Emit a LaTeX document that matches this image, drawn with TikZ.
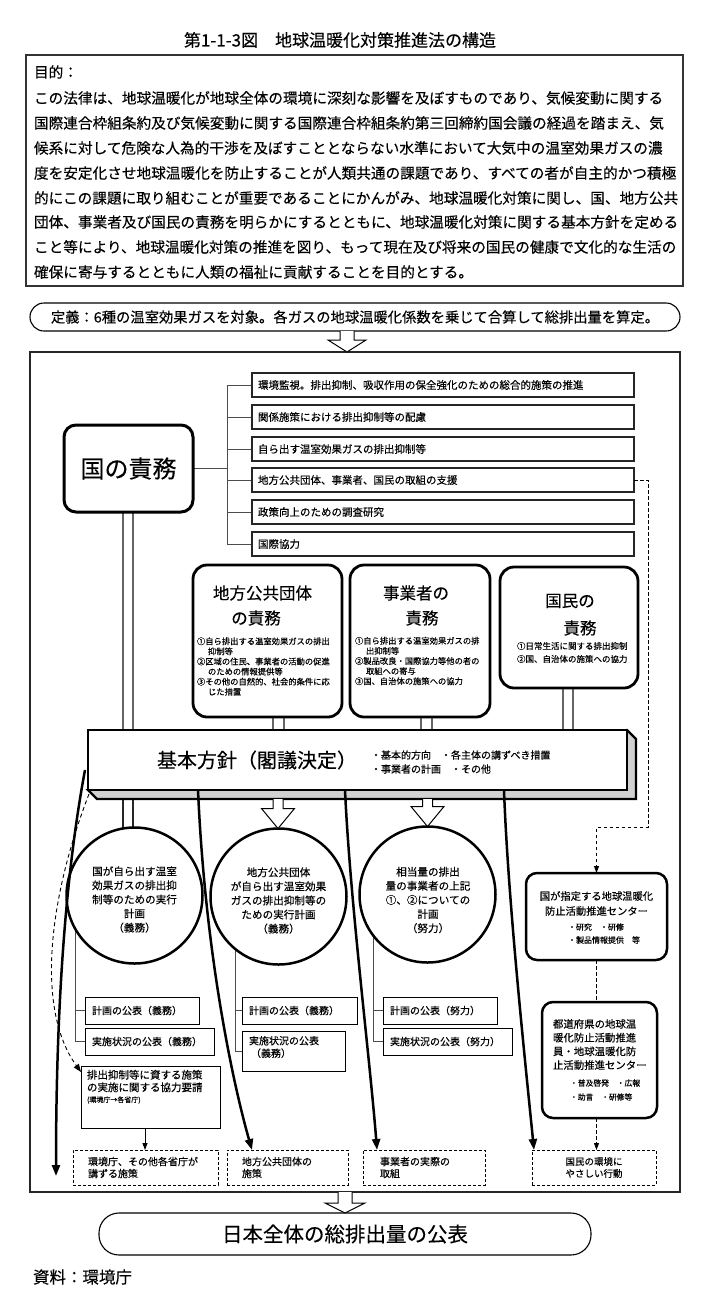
\documentclass[tikz,border=0pt]{standalone}
\usepackage{fontspec}
\setmainfont{Noto Sans CJK JP}[FakeBold=0.25]
\usetikzlibrary{arrows.meta,calc,backgrounds}
\XeTeXlinebreaklocale "ja"
\XeTeXlinebreakskip=0pt plus 4pt
\newcommand\myfs[1]{\fontsize{#1}{#1}\selectfont}
\newcommand\myfsl[2]{\fontsize{#1}{#2}\selectfont}
\newcommand\hollowdown[6]{%
  \draw[line width=1pt, fill=white] let \p1=(#2), \p2=(#3) in
    ({#1pt-#4pt},\y1) -- ({#1pt-#4pt},{\y2+#6pt}) -- ({#1pt-#5pt},{\y2+#6pt})
    -- ({#1pt},\y2) -- ({#1pt+#5pt},{\y2+#6pt}) -- ({#1pt+#4pt},{\y2+#6pt})
    -- ({#1pt+#4pt},\y1);}
\begin{document}
\begin{tikzpicture}[x=1pt,y=-1pt,
  every node/.style={inner sep=0pt,outer sep=0pt},
  ptext/.style={anchor=west,font=\myfs{14.65}},
  listbox/.style={draw=black!85,line width=1.1pt,fill=white,anchor=north west,minimum width=382pt,minimum height=24pt,text width=370pt,align=left,font=\myfs{10.5}},
  rbox/.style={draw,fill=white,anchor=north west},
  conn/.style={draw=black!70,line width=1pt},
  dline/.style={draw=black!60,line width=1.1pt},
  sbox/.style={draw,line width=1pt,fill=white,anchor=north west,minimum height=27pt,align=left,font=\myfsl{10}{12.5}},
  dbox/.style={draw,dash pattern=on 3pt off 2pt,line width=1pt,anchor=north west,minimum height=35pt,align=left,font=\myfsl{10}{12}},
  bigarrow/.style={line width=2.5pt,-{Triangle[length=11pt,width=8pt]}},
  dasharrow/.style={line width=0.9pt,dash pattern=on 4pt off 3pt,-{Triangle[length=8pt,width=6pt]}},
  dashline/.style={line width=0.9pt,dash pattern=on 3.5pt off 2.5pt},
  smalltip/.style={-{Triangle[length=7pt,width=5pt]}},
  ]
\useasboundingbox (0,0) rectangle (708,1315);

% ---------- title and purpose ----------
\node[font=\myfs{17}] (title) at (340,40) {第1-1-3図　地球温暖化対策推進法の構造};
\node[draw=black!80,line width=1.3pt,anchor=north west,minimum width=657pt,minimum height=231pt] (purpose) at (26,55) {};
\node[ptext] (p0) at (34,72) {目的：};
\node[ptext] (p1) at (34,98) {\makebox[645pt][s]{この法律は、地球温暖化が地球全体の環境に深刻な影響を及ぼすものであり、気候変動に関する}};
\node[ptext] (p2) at (34,123) {\makebox[645pt][s]{国際連合枠組条約及び気候変動に関する国際連合枠組条約第三回締約国会議の経過を踏まえ、気}};
\node[ptext] (p3) at (34,148) {\makebox[645pt][s]{候系に対して危険な人為的干渉を及ぼすこととならない水準において大気中の温室効果ガスの濃}};
\node[ptext] (p4) at (34,173) {\makebox[645pt][s]{度を安定化させ地球温暖化を防止することが人類共通の課題であり、すべての者が自主的かつ積極}};
\node[ptext] (p5) at (34,198) {\makebox[645pt][s]{的にこの課題に取り組むことが重要であることにかんがみ、地球温暖化対策に関し、国、地方公共}};
\node[ptext] (p6) at (34,222) {\makebox[645pt][s]{団体、事業者及び国民の責務を明らかにするとともに、地球温暖化対策に関する基本方針を定める}};
\node[ptext] (p7) at (34,247) {\makebox[645pt][s]{こと等により、地球温暖化対策の推進を図り、もって現在及び将来の国民の健康で文化的な生活の}};
\node[ptext] (p8) at (34,272) {確保に寄与するとともに人類の福祉に貢献することを目的とする。};

% ---------- definition ----------
\node[draw,line width=1.1pt,rounded corners=14pt,minimum width=650pt,minimum height=28pt,font=\myfs{14.3}] (def) at (355,317) {定義：6種の温室効果ガスを対象。各ガスの地球温暖化係数を乗じて合算して総排出量を算定。};
\node[draw=black!85,line width=1.1pt,anchor=north west,minimum width=650pt,minimum height=840pt] (frame) at (30,352) {};
\hollowdown{347}{def.south}{frame.north}{7}{19}{12}

% ---------- national duties ----------
\node[rbox,line width=3pt,rounded corners=12pt,minimum width=129pt,minimum height=87pt,font=\myfs{24}] (kuni) at (64,425) {国の責務};
\node[listbox] (l1) at (252,373) {環境監視。排出抑制、吸収作用の保全強化のための総合的施策の推進};
\node[listbox] (l2) at (252,405) {関係施策における排出抑制等の配慮};
\node[listbox] (l3) at (252,437) {自ら出す温室効果ガスの排出抑制等};
\node[listbox] (l4) at (252,468) {地方公共団体、事業者、国民の取組の支援};
\node[listbox] (l5) at (252,500) {政策向上のための調査研究};
\node[listbox] (l6) at (252,532) {国際協力};
\coordinate (kx) at (227,0);

% ---------- three duties ----------
\node[rbox,line width=2.8pt,rounded corners=14pt,minimum width=149pt,minimum height=152pt] (chiho) at (193,565) {};
\node[rbox,line width=2.8pt,rounded corners=14pt,minimum width=140pt,minimum height=152pt] (jigyo) at (350,565) {};
\node[rbox,line width=2.8pt,rounded corners=14pt,minimum width=138pt,minimum height=121pt] (kokumin) at (500,567) {};
\node[font=\myfs{16.5}] (chihoT1) at (262.5,593) {地方公共団体};
\node[font=\myfs{16.5}] (chihoT2) at (256,618) {の責務};
\node[anchor=west,align=left,font=\myfsl{8.3}{10.1}] (chihoI) at (197,666.5) {①自ら排出する温室効果ガスの排出\\\hspace{11pt}抑制等\\②区域の住民、事業者の活動の促進\\\hspace{11pt}のための情報提供等\\③その他の自然的、社会的条件に応\\\hspace{11pt}じた措置};
\node[font=\myfs{16.5}] (jigyoT1) at (416,593) {事業者の};
\node[font=\myfs{16.5}] (jigyoT2) at (422,618) {責務};
\node[anchor=west,align=left,font=\myfsl{8.3}{10.1}] (jigyoI) at (355,661) {①自ら排出する温室効果ガスの排\\\hspace{11pt}出抑制等\\②製品改良・国際協力等他の者の\\\hspace{11pt}取組への寄与\\③国、自治体の施策への協力};
\node[font=\myfs{16.5}] (kokuminT1) at (570,601) {国民の};
\node[font=\myfs{16.5}] (kokuminT2) at (580,628) {責務};
\node[anchor=west,align=left,font=\myfsl{8.5}{13}] (kokuminI) at (517,652.5) {①日常生活に関する排出抑制\\②国、自治体の施策への協力};

% ---------- basic policy bar ----------
\node[draw,fill=white,line width=2.6pt,anchor=north west,minimum width=539pt,minimum height=60pt] (bar) at (88,730) {};
\node[font=\myfs{20}] (barT) at (257,760) {基本方針（閣議決定）};
\node[anchor=west,align=left,font=\myfsl{10}{14}] (barB) at (371,762) {・基本的方向　・各主体の講ずべき措置\\・事業者の計画　・その他};

% ---------- plans (circles) ----------
\node[circle,draw,fill=white,line width=2.5pt,minimum size=136pt] (c1) at (134.5,895.5) {};
\node[circle,draw,fill=white,line width=2.5pt,minimum size=136pt] (c2) at (278.5,896.5) {};
\node[circle,draw,fill=white,line width=2.5pt,minimum size=136pt] (c3) at (427.5,894.5) {};
\node[align=center,font=\myfsl{10.6}{14.1}] (c1T) at (134.5,899.5) {国が自ら出す温室\\効果ガスの排出抑\\制等のための実行\\計画\\（義務）};
\node[align=center,font=\myfsl{10.6}{14.1}] (c2T) at (278.5,900.5) {地方公共団体\\が自ら出す温室効果\\ガスの排出抑制等の\\ための実行計画\\（義務）};
\node[align=center,font=\myfsl{10.6}{14.1}] (c3T) at (428,900) {相当量の排出\\量の事業者の上記\\①、②についての\\計画\\（努力）};
\hollowdown{278}{$(bar.south)+(0,9)$}{c2.north}{5}{16.5}{20}
\hollowdown{427.5}{$(bar.south)+(0,9)$}{c3.north}{5}{16.5}{20}

% ---------- publication boxes ----------
\node[sbox,minimum width=114pt,text width=100pt] (c1a) at (85,997) {計画の公表（義務）};
\node[sbox,minimum width=129pt,text width=115pt] (c1b) at (85,1028) {実施状況の公表（義務）};
\node[sbox,minimum width=115pt,text width=101pt] (c2a) at (242,997) {計画の公表（義務）};
\node[sbox,minimum width=103pt,minimum height=40pt] (c2b) at (242,1031) {};
\node[anchor=west,align=left,font=\myfsl{10}{12.5}] (c2bT) at (249,1047) {実施状況の公表\\\hspace{2pt}（義務）};
\node[sbox,minimum width=114pt,text width=100pt] (c3a) at (383,997) {計画の公表（努力）};
\node[sbox,minimum width=129pt,text width=115pt] (c3b) at (383,1028) {実施状況の公表（努力）};

\node[draw,line width=1pt,fill=white,anchor=north west,minimum width=139pt,minimum height=62pt] (kyo) at (81,1066) {};
\node[anchor=west,align=left,font=\myfsl{10.5}{12.5}] (kyoT) at (87,1081) {排出抑制等に資する施策\\の実施に関する協力要請};
\node[anchor=west,font=\myfs{7}] (kyoS) at (87,1100) {(環境庁→各省庁)};

% ---------- result boxes ----------
\node[dbox,minimum width=145pt,text width=115pt] (d1) at (73,1150) {環境庁、その他各省庁が\\講ずる施策};
\node[dbox,minimum width=121pt,text width=91pt] (d2) at (227,1150) {地方公共団体の\\施策};
\node[dbox,minimum width=122pt,text width=88pt] (d3) at (363,1150) {事業者の実際の\\取組};
\node[dbox,minimum width=124pt,align=center,font=\myfsl{9.5}{12}] (d4) at (532,1150) {国民の環境に\\やさしい行動};

% ---------- centres ----------
\node[rbox,line width=2.5pt,rounded corners=11pt,minimum width=141pt,minimum height=87pt] (r1) at (526,873) {};
\node[align=center,font=\myfsl{10.3}{15}] (r1T) at (596.5,903.5) {国が指定する地球温暖化\\防止活動推進センター};
\node[anchor=west,align=left,font=\myfsl{8}{13}] (r1B) at (568,933.5) {・研究　・研修\\・製品情報提供　等};
\node[rbox,line width=2.5pt,rounded corners=11pt,minimum width=115pt,minimum height=116pt] (r2) at (542,1002) {};
\node[anchor=west,align=left,font=\myfsl{10.4}{13.7}] (r2T) at (553,1044.5) {都道府県の地球温\\暖化防止活動推進\\員・地球温暖化防\\止活動推進センター};
\node[anchor=west,align=left,font=\myfsl{7.8}{14}] (r2B) at (570,1090) {・普及啓発　・広報\\・助言　・研修等};

% ---------- final ----------
\node[draw,line width=1.1pt,rounded corners=20pt,minimum width=492pt,minimum height=42pt,font=\myfs{20.5}] (final) at (345,1234) {日本全体の総排出量の公表};
\hollowdown{345}{frame.south}{final.north}{7}{20}{10}
\node[anchor=west,font=\myfs{16.5}] (src) at (33,1277) {資料：環境庁};

% ---------- background connectors ----------
\begin{scope}[on background layer]
  \fill[white] (0,0) rectangle (708,1315);
  \foreach \x in {123,133} \draw[dline] (\x,0 |- kuni.south) -- (\x,0 |- bar.north);
  \foreach \x in {273,284} \draw[dline] (\x,0 |- chiho.south) -- (\x,0 |- bar.north);
  \foreach \x in {421,432} \draw[dline] (\x,0 |- jigyo.south) -- (\x,0 |- bar.north);
  \foreach \x in {563,573} \draw[dline] (\x,0 |- kokumin.south) -- (\x,0 |- bar.north);
  \foreach \x in {123,133} \draw[draw=black!85,line width=1.4pt] (\x,0 |- bar.south) -- (\x,0 |- c1.center);
  \draw[line width=2.2pt,fill=black!18,line join=miter] (bar.north east) -- ++(9,9) -- ($(bar.south east)+(9,9)$) -- ($(bar.south west)+(9,9)$) -- (bar.south west) -- cycle;
  \draw[conn] (kuni.east) -- (kuni.east -| kx);
  \draw[conn] (l1.west -| kx) -- (l6.west -| kx);
  \foreach \i in {1,...,6} \draw[conn] (l\i.west -| kx) -- (l\i.west);
  \draw[conn] (c1.209) -- (c1.209 |- c1b.west) -- (c1b.west);
  \draw[conn] (c1.209 |- c1a.west) -- (c1a.west);
  \draw[conn] (c2.231) -- (c2.231 |- c2b.west) -- (c2b.west);
  \draw[conn] (c2.231 |- c2a.west) -- (c2a.west);
  \draw[conn] (c3.217) -- (c3.217 |- c3b.west) -- (c3b.west);
  \draw[conn] (c3.217 |- c3a.west) -- (c3a.west);
\end{scope}

% ---------- arrows ----------
\draw[line width=0.9pt,smalltip] ([xshift=-5.5pt]kyo.south) -- ([xshift=-5.5pt]kyo.south |- d1.north);
\coordinate (endA) at (56,1176);
\draw[bigarrow] ($(bar.west)+(-3,10)$) .. controls (72,840) and (56,960) .. (endA);
\draw[dasharrow] ($(bar.south west)+(1,4)$) .. controls (48,900) and (36,1010) .. ([yshift=-6pt]kyo.north west);
\draw[bigarrow] ($(bar.south west)+(110,0)$) .. controls (205,950) and (232,1080) .. ([xshift=25pt]d2.north west);
\draw[bigarrow] ($(bar.south west)+(257,0)$) .. controls (350,900) and (370,1060) .. ([xshift=14pt]d3.north west);
\draw[bigarrow] ($(bar.south west)+(416,0)$) .. controls (508,900) and (525,1060) .. ([xshift=2pt]d4.north west);
\coordinate (rx) at (648,827);
\draw[dashline,smalltip] (l4.east) -- (l4.east -| rx) -- (rx) -- (rx -| r1.north) -- (r1.north);
\draw[dashline] (r1.south) -- (r1.south |- r2.north);
\draw[dashline,smalltip] (r1.south |- r2.south) -- (r1.south |- d4.north);
\end{tikzpicture}
\end{document}
